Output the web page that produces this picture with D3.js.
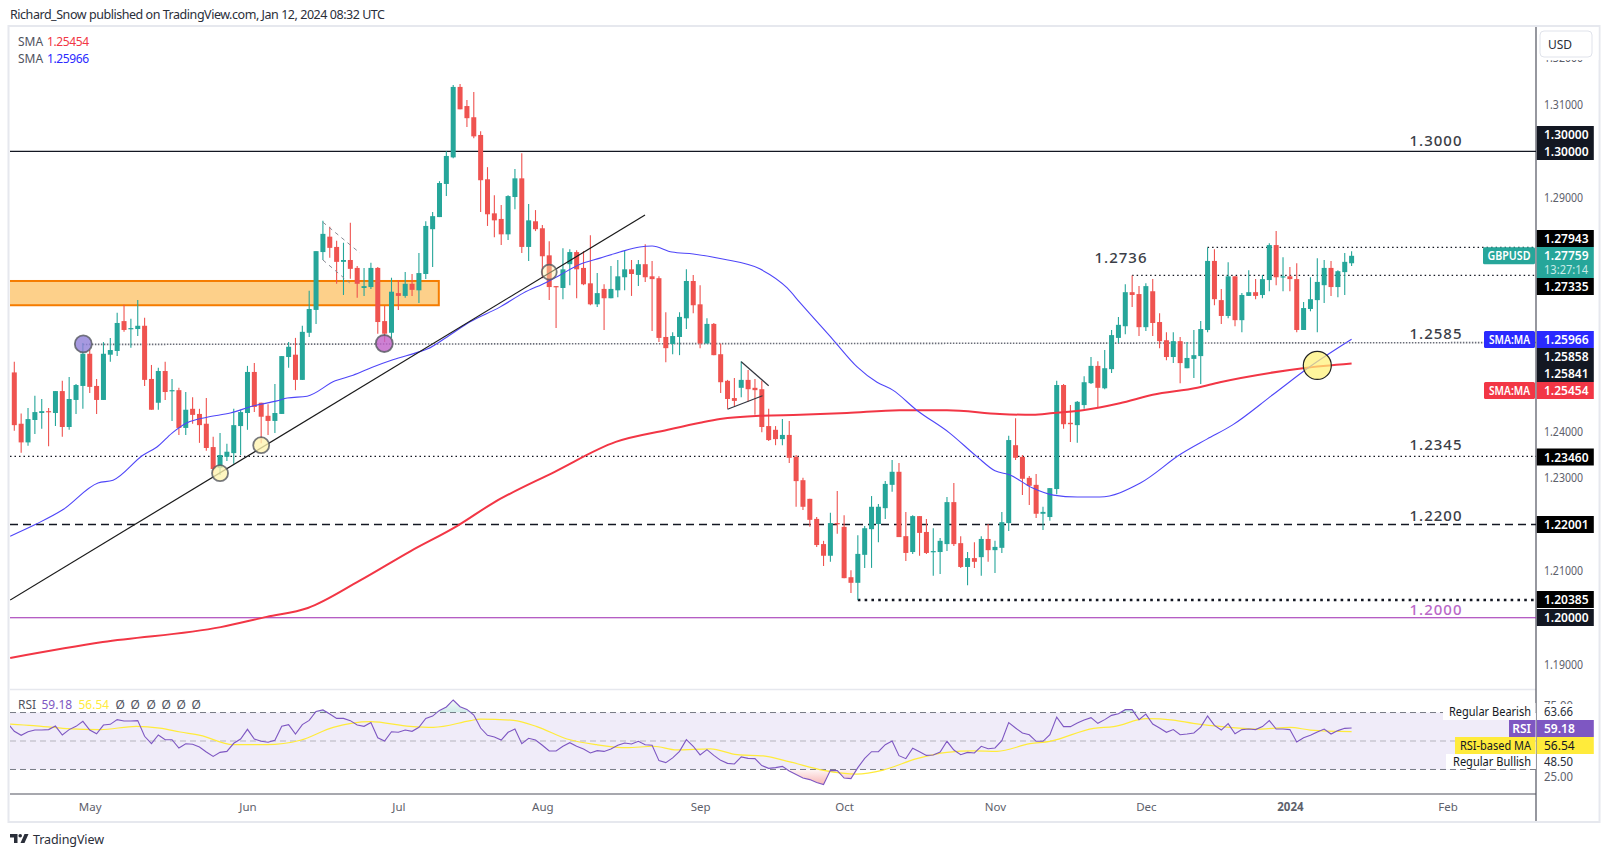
<!DOCTYPE html>
<html><head><meta charset="utf-8">
<script src="https://cdnjs.cloudflare.com/ajax/libs/d3/7.8.5/d3.min.js"></script>
<style>
html,body{margin:0;padding:0;background:#fff}
svg{display:block}
text{font-family:"Noto Sans",sans-serif}
</style></head><body><svg id="c" width="1610" height="857"></svg>
<script>
// All prices are GBPUSD quotes x 10000 (pips)
const opens=[12526,12416,12376,12424,12439,12443,12439,12486,12409,12467,
12497,12566,12497,12467,12564,12572,12636,12619,12619,12626,
12512,12461,12529,12486,12488,12407,12448,12437,12416,12366,
12321,12345,12353,12411,12439,12527,12461,12433,12422,12437,
12559,12564,12510,12611,12660,12784,12817,12795,12763,12767,
12750,12707,12709,12750,12636,12611,12696,12690,12716,12702,
12737,12833,12859,12930,12987,13138,13097,13073,13035,12940,
12867,12855,12822,12902,12942,12795,12850,12835,12777,12711,
12707,12758,12784,12750,12717,12672,12705,12685,12702,12730,
12747,12735,12758,12732,12728,12602,12587,12602,12642,12722,
12672,12588,12630,12565,12508,12471,12493,12510,12493,12490,
12411,12403,12383,12392,12345,12295,12255,12212,12158,12133,
12203,12195,12087,12075,12135,12190,12201,12235,12285,12313,
12175,12141,12218,12184,12141,12141,12158,12248,12160,12109,
12128,12130,12169,12145,12150,12203,12370,12345,12300,12285,
12223,12216,12276,12499,12418,12413,12456,12503,12540,12492,
12533,12600,12625,12698,12694,12623,12700,12634,12595,12559,
12593,12535,12555,12561,12617,12765,12681,12647,12732,12638,
12690,12698,12692,12724,12799,12730,12732,12726,12617,12662,
12681,12713,12750,12709,12741,12760];
const closes=[12413,12376,12426,12441,12443,12441,12486,12409,12469,12499,
12566,12495,12467,12566,12574,12632,12617,12621,12626,12510,
12446,12529,12484,12488,12407,12446,12435,12413,12364,12319,
12349,12356,12413,12441,12527,12452,12431,12422,12439,12561,
12581,12510,12613,12662,12786,12823,12793,12763,12767,12748,
12716,12711,12750,12634,12609,12699,12690,12716,12703,12739,
12840,12861,12932,12990,13138,13090,13071,13032,12938,12865,
12852,12822,12904,12942,12795,12852,12833,12775,12709,12709,
12747,12784,12747,12715,12672,12696,12685,12705,12732,12747,
12737,12758,12730,12726,12600,12578,12604,12645,12722,12670,
12588,12630,12563,12505,12469,12465,12510,12490,12488,12409,
12381,12383,12392,12343,12293,12238,12210,12156,12133,12203,
12201,12085,12075,12137,12192,12238,12238,12287,12313,12173,
12139,12218,12182,12139,12143,12165,12248,12158,12109,12128,
12120,12169,12145,12152,12205,12381,12343,12298,12283,12223,
12227,12278,12499,12415,12415,12463,12505,12540,12493,12535,
12606,12628,12698,12692,12623,12711,12632,12593,12559,12593,
12546,12557,12563,12619,12765,12683,12647,12732,12638,12692,
12698,12690,12726,12799,12730,12732,12726,12617,12664,12683,
12720,12750,12709,12743,12763,12776];
const highs=[12549,12438,12450,12476,12469,12450,12486,12508,12516,12501,
12589,12574,12512,12591,12600,12654,12671,12641,12681,12643,
12542,12536,12549,12512,12493,12484,12473,12448,12471,12388,
12396,12373,12448,12446,12540,12546,12461,12458,12501,12561,
12591,12600,12626,12701,12786,12851,12838,12808,12804,12847,
12754,12750,12761,12752,12669,12729,12724,12741,12737,12782,
12850,12870,12936,13000,13142,13144,13110,13127,13043,12966,
12906,12885,12906,12962,12996,12887,12874,12842,12807,12711,
12792,12790,12788,12786,12820,12739,12715,12754,12767,12788,
12767,12767,12801,12765,12732,12655,12612,12655,12747,12735,
12713,12642,12632,12588,12510,12514,12550,12531,12512,12508,
12448,12411,12426,12422,12349,12300,12255,12216,12165,12225,
12272,12220,12102,12177,12197,12261,12244,12293,12338,12332,
12227,12220,12218,12212,12192,12171,12259,12289,12175,12141,
12162,12175,12201,12165,12227,12390,12428,12349,12304,12308,
12238,12278,12508,12501,12456,12465,12518,12559,12550,12574,
12617,12645,12715,12734,12711,12717,12726,12653,12612,12612,
12602,12591,12617,12636,12794,12790,12705,12762,12732,12696,
12745,12726,12735,12803,12829,12773,12752,12760,12677,12730,
12771,12767,12765,12745,12782,12786];
const lows=[12401,12354,12369,12394,12405,12368,12411,12388,12403,12437,
12448,12482,12437,12467,12549,12561,12613,12579,12604,12497,
12446,12446,12467,12422,12392,12392,12416,12375,12358,12310,
12306,12336,12330,12349,12403,12441,12374,12392,12396,12437,
12536,12488,12510,12602,12630,12767,12772,12716,12692,12727,
12686,12690,12705,12609,12591,12600,12660,12686,12690,12675,
12726,12752,12859,12904,12985,13090,13052,13028,12870,12840,
12816,12799,12810,12876,12782,12765,12829,12728,12681,12621,
12683,12713,12685,12713,12670,12666,12617,12685,12687,12702,
12690,12711,12720,12615,12591,12548,12565,12563,12619,12653,
12578,12588,12563,12482,12448,12454,12473,12463,12435,12398,
12379,12370,12370,12332,12238,12231,12195,12152,12111,12120,
12180,12085,12053,12038,12107,12107,12162,12212,12270,12173,
12122,12137,12133,12137,12090,12094,12143,12154,12107,12070,
12107,12090,12120,12096,12139,12186,12338,12263,12242,12214,
12188,12208,12265,12405,12377,12375,12448,12501,12450,12490,
12525,12589,12608,12666,12604,12615,12604,12578,12552,12546,
12503,12535,12514,12501,12612,12670,12630,12642,12625,12612,
12690,12683,12685,12700,12713,12700,12700,12612,12617,12657,
12612,12675,12690,12687,12692,12754];
// SMA 50: [bar index, price]
const sma50Idx=[-0.6,3.2,7,12.2,14.4,18.8,20.8,23,25.2,28.1,31.5,34.8,38.3,39.8,42.7,46.8,49.4,52.2,55.2,59,60.2,63.1,66.4,70.8,74.2,77.7,79.6,82.5,85.4,88.3,91.2,93,95.9,99,103.3,108.7,112.7,114.6,119.4,122.9,125.8,128.1,131.6,136.4,140.4,143,145.2,148.5,151.5,155,158.3,164.2,170.1,173.9,177.6,183.5,188.9,195];
const sma50Val=[12175,12201,12231,12289,12295,12349,12366,12396,12418,12430,12439,12454,12465,12471,12475,12508,12520,12537,12553,12570,12576,12602,12634,12666,12696,12720,12735,12758,12771,12784,12795,12797,12784,12780,12769,12748,12707,12675,12596,12538,12505,12488,12445,12396,12345,12315,12306,12278,12263,12259,12259,12289,12351,12383,12413,12478,12538,12597];
const sma200Idx=[-0.6,12.9,30.1,36.8,42.8,50.3,57.8,64.6,69.8,78.8,87.7,95.3,100,102.9,108.7,114.6,121.4,129.1,136,143.7,148.5,151.5,155.8,161.2,166,172.5,175.8,183.1,187.9,195];
const sma200Val=[11914,11948,11980,12002,12021,12079,12143,12197,12246,12313,12377,12403,12418,12426,12433,12435,12439,12445,12445,12437,12435,12439,12445,12460,12478,12493,12505,12525,12535,12545];
// RSI starting at bar -1
const rsiVals=[62.6,56.8,54.0,56.5,57.7,57.7,58.0,60.5,54.2,58.0,60.3,63.8,57.7,55.1,61.2,61.7,65.0,64.0,64.0,64.3,53.3,48.1,54.2,50.9,50.9,45.1,48.1,47.7,45.8,42.3,39.2,42.0,42.7,48.4,51.4,58.2,51.4,49.8,49.1,50.5,60.3,61.5,54.9,61.5,64.5,70.8,71.8,68.9,65.9,65.9,64.3,61.2,60.3,62.9,52.3,50,56.5,56.1,57.7,56.8,59.6,65.9,67.5,71.5,73.9,78.8,74.1,72.2,68.2,59.1,54.0,52.8,50.7,56.1,58.4,48.1,51.9,50.7,47.0,43.0,43.0,46.3,48.8,46.3,44.4,41.6,43.2,42.7,44.4,47.0,48.6,47.9,49.8,47.4,47.0,36.2,34.8,38.1,42.7,50.9,46.3,40.2,43.9,39.9,36.4,34.3,33.9,38.8,37.8,37.6,32.7,30.8,31.3,32.2,28.9,26.4,24.0,22.9,20.8,19.4,29.4,29.2,24.0,23.6,31.3,37.8,42.5,42.5,47.4,50,39.7,37.6,44.9,42.5,39.9,40.2,42.3,49.8,43.7,40.4,42.0,41.6,46.3,44.6,45.1,50.2,62.9,59.1,55.6,54.4,49.8,49.8,54.4,66.8,60.1,60.1,62.6,64.7,66.4,62.4,65.0,68.0,69.2,72.0,72.0,65.0,68.9,61.9,59.1,56.1,58.0,54.4,54.9,55.6,59.8,67.5,61.0,57.7,62.2,55.1,58.0,58.4,58.0,60.1,64.3,58.4,58.4,58.0,49.3,52.3,54.0,56.3,58.4,54.9,57.3,58.9,59.18];
const rsiMaIdx=[-0.6,2.8,7.6,12.5,17.8,21.2,24.2,27.1,31.9,36.8,41.7,46.5,51.9,57.7,61.1,66.5,67.9,72.8,76.2,80.6,84.9,89.3,93.2,96.6,101.5,105.4,109.2,113.1,118,122.8,126.7,131.6,136,139.9,143.3,148.1,151,157.4,160.3,165.1,169,171.9,176.8,181.7,186,189,195];
const rsiMaVal=[61.9,60.8,58.7,58.0,60.3,59.1,56.3,54.0,47.4,47.4,50.5,59.6,63.6,60.3,59.6,64.3,65.4,64.5,60.1,51.4,47.4,45.3,46.3,43.7,44.4,40.4,39.5,35.3,29.4,26.8,29.6,37.6,42.0,43.0,42.7,48.1,49.8,58.9,60.1,65.7,64.7,62.4,59.8,58.4,59.6,57.7,56.54];
// Axis
const priceTicks=[13200,13100,12900,12400,12300,12100,11900];
const rsiTicks=[75,25];
const monthIdx=[11,34,56,77,100,121,143,165,186,209];
const monthLabels=["May","Jun","Jul","Aug","Sep","Oct","Nov","Dec","2024","Feb"];
// Drawn levels and annotations: price and bar index
const level13000=13000, level12200=12200, level12346=12346, level12000=12000;
const level12794=[175-1,12794], level12734=[164-1,12734], level12038=[123,12038];
const level12585=[[10,12586],[196,12590]];
const zone=[61.9,12670,12722];
const trend=[[-0.6,12038],[91.97,12863.5]];
const channel=[[[45,12848],[50.4,12782]],[[45,12767],[48.9,12718]]];
const triangle=[[[106,12549],[110,12497.5]],[[104,12447],[109.1,12476]]];
const circles=[[10.06,12587,8.5,"#9080d8",.8],[53.95,12588,8.5,"#c060c8",.8],[30,12310,8,"#fff3b0",.78],[36,12370,8,"#fff3b0",.78],[78,12741,7.5,"#fff3b0",.45],[190,12541,14,"#fff176",.72]];

const svg=d3.select("#c");
const L=10,R=1536,TOP=27,BOT=689;
const x=d3.scaleLinear().domain([0,195]).range([14.3,1351.6]);
const y=d3.scaleLinear().domain([12000,13000]).range([617.8,151.3]);
const yr=d3.scaleLinear().domain([25,75]).range([776.6,705.4]);
const defs=svg.append("defs");
defs.append("clipPath").attr("id","main").append("rect").attr("x",L).attr("y",TOP).attr("width",R-L).attr("height",BOT-TOP);
defs.append("clipPath").attr("id","rsi").append("rect").attr("x",L).attr("y",690).attr("width",R-L).attr("height",104);
defs.append("clipPath").attr("id","ob").append("rect").attr("x",L).attr("y",690).attr("width",R-L).attr("height",yr(70)-690);
defs.append("clipPath").attr("id","os").append("rect").attr("x",L).attr("y",yr(30)).attr("width",R-L).attr("height",794-yr(30));
let g1=defs.append("linearGradient").attr("id","gOb").attr("x1",0).attr("x2",0).attr("y1",0).attr("y2",1);
g1.append("stop").attr("offset",0).attr("stop-color","#26a69a").attr("stop-opacity",.05);
g1.append("stop").attr("offset",1).attr("stop-color","#26a69a").attr("stop-opacity",.22);
let g2=defs.append("linearGradient").attr("id","gOs").attr("x1",0).attr("x2",0).attr("y1",0).attr("y2",1);
g2.append("stop").attr("offset",0).attr("stop-color","#ef5350").attr("stop-opacity",.05);
g2.append("stop").attr("offset",1).attr("stop-color","#ef5350").attr("stop-opacity",.42);

// Frame
const BORDER="#e6e8ee";
svg.append("rect").attr("x",8.5).attr("y",26).attr("width",1591).attr("height",796).attr("fill","none").attr("stroke",BORDER).attr("stroke-width",2);
svg.append("line").attr("x1",L).attr("x2",R).attr("y1",689.5).attr("y2",689.5).attr("stroke",BORDER).attr("stroke-width",1.5);
svg.append("line").attr("x1",L).attr("x2",R).attr("y1",794).attr("y2",794).attr("stroke","#50535e").attr("stroke-width",1.2);
svg.append("line").attr("x1",R).attr("x2",R).attr("y1",27).attr("y2",821).attr("stroke","#50535e").attr("stroke-width",1.2);

// Title
svg.append("text").attr("x",10).attr("y",18.5).attr("font-size",12.5).attr("fill","#2a2e39").attr("textLength",375).text("Richard_Snow published on TradingView.com, Jan 12, 2024 08:32 UTC");
svg.append("text").attr("x",18).attr("y",46).attr("font-size",12).attr("fill","#50535e").text("SMA");
svg.append("text").attr("x",47).attr("y",46).attr("font-size",12).attr("fill","#f23645").attr("textLength",42).text("1.25454");
svg.append("text").attr("x",18).attr("y",63).attr("font-size",12).attr("fill","#50535e").text("SMA");
svg.append("text").attr("x",47).attr("y",63).attr("font-size",12).attr("fill","#2a2aff").attr("textLength",42).text("1.25966");

// Main pane
const m=svg.append("g").attr("clip-path","url(#main)");
m.append("rect").attr("x",x(-5)).attr("width",x(zone[0])-x(-5)).attr("y",y(zone[2])).attr("height",y(zone[1])-y(zone[2])).attr("fill","#fdd08a").attr("stroke","#f57c00").attr("stroke-width",2);
const hl=(x1,x2,val,col,w,dash)=>m.append("line").attr("x1",x1).attr("x2",x2).attr("y1",y(val)).attr("y2",y(val)).attr("stroke",col).attr("stroke-width",w).attr("stroke-dasharray",dash||null);
hl(L,R,level13000,"#131722",1.3);
hl(L,R,level12346,"#131722",1.3,"1.5 3");
hl(L,R,level12200,"#131722",1.6,"8 5");
hl(L,R,level12000,"#9c27b0",1.1);
hl(x(level12794[0]),R,level12794[1],"#131722",1.3,"1.5 3");
hl(x(level12734[0]),R,level12734[1],"#131722",1.3,"1.5 3");
hl(x(level12038[0]),R,level12038[1],"#131722",2.6,"2.6 4.2");
m.append("line").attr("x1",x(level12585[0][0])).attr("x2",R).attr("y1",y(level12585[0][1])).attr("y2",y(level12585[1][1])).attr("stroke","#6a6d78").attr("stroke-width",1.6).attr("stroke-dasharray","1.5 1.5");

// Candles
const idx=d3.range(opens.length);
const col=i=>closes[i]>=opens[i]?"#26a69a":"#ef5350";
const cg=m.append("g");
cg.selectAll("line.w").data(idx).join("line").attr("class","w").attr("x1",i=>x(i)).attr("x2",i=>x(i)).attr("y1",i=>y(highs[i])).attr("y2",i=>y(lows[i])).attr("stroke",col).attr("stroke-width",1.1);
cg.selectAll("rect.b").data(idx).join("rect").attr("class","b").attr("x",i=>x(i)-2.5).attr("width",5).attr("y",i=>y(Math.max(opens[i],closes[i]))).attr("height",i=>Math.max(1.2,Math.abs(y(opens[i])-y(closes[i])))).attr("fill",col);

// SMA
const ln=d3.line().x(d=>x(d[0])).y(d=>y(d[1])).curve(d3.curveMonotoneX);
m.append("path").attr("d",ln(sma200Idx.map((v,i)=>[v,sma200Val[i]]))).attr("fill","none").attr("stroke","#f23645").attr("stroke-width",2);
m.append("path").attr("d",ln(sma50Idx.map((v,i)=>[v,sma50Val[i]]))).attr("fill","none").attr("stroke","#4f46f8").attr("stroke-width",1.1);

// Annotations
const seg=(s,c,w,dash)=>m.append("line").attr("x1",x(s[0][0])).attr("y1",y(s[0][1])).attr("x2",x(s[1][0])).attr("y2",y(s[1][1])).attr("stroke",c).attr("stroke-width",w).attr("stroke-dasharray",dash||null);
seg(trend,"#1a1a1a",1.2);
channel.forEach(s=>seg(s,"#8a8d96",1,"4 4"));
triangle.forEach(s=>seg(s,"#33363f",1.2));
m.selectAll("circle.a").data(circles).join("circle").attr("class","a").attr("cx",d=>x(d[0])).attr("cy",d=>y(d[1])).attr("r",d=>d[2]).attr("fill",d=>d[3]).attr("fill-opacity",d=>d[4]).attr("stroke",(d,i)=>i==5?"#222":"#55585f").attr("stroke-width",(d,i)=>i==5?1.2:1.8).attr("stroke-opacity",(d,i)=>i==5?1:.8);

// Level texts
const lvl=(t,px,py,c)=>svg.append("text").attr("x",px).attr("y",py).attr("text-anchor","middle").attr("font-size",15).attr("letter-spacing",1).attr("fill",c||"#3b3e47").attr("font-weight",500).text(t);
lvl("1.3000",1436,146);
lvl("1.2736",1121,263);
lvl("1.2585",1436,339);
lvl("1.2345",1436,449.5);
lvl("1.2200",1436,521);
lvl("1.2000",1436,614.5,"#ba68c8");

// Price axis
const ax=d3.axisRight(y).tickValues(priceTicks).tickSize(0).tickPadding(0).tickFormat(v=>d3.format(".5f")(v/10000));
const ag=svg.append("g").attr("transform","translate(1544,0)").call(ax);
ag.select(".domain").remove();
ag.selectAll("text").attr("font-size",12).attr("fill","#5d606b").attr("font-family",'"Noto Sans",sans-serif').attr("textLength",39).attr("lengthAdjust","spacingAndGlyphs");
// USD box
svg.append("rect").attr("x",1537.5).attr("y",27).attr("width",61).attr("height",33).attr("fill","#fff");
svg.append("rect").attr("x",1540).attr("y",31).attr("width",52).attr("height",26).attr("rx",4).attr("fill","#fff").attr("stroke","#e0e3eb");
svg.append("text").attr("x",1560).attr("y",48.5).attr("text-anchor","middle").attr("font-size",12).attr("fill","#2a2e39").text("USD");

// Right tags
const tagDefs=[
 ["1.30000",126,"#131722"],["1.30000",143,"#131722"],["1.27943",230,"#000"],
 ["1.27335",278,"#000"],["1.25966",331,"#2a2aff"],["1.25858",348,"#131722"],["1.25841",365,"#131722"],
 ["1.25454",382,"#f23645"],["1.23460",448.5,"#000"],["1.22001",516,"#000"],["1.20385",591,"#000"],["1.20000",609,"#131722"]];
tagDefs.forEach(d=>{
 svg.append("rect").attr("x",1536.8).attr("y",d[1]).attr("width",57).attr("height",17).attr("fill",d[2]);
 svg.append("text").attr("x",1544).attr("y",d[1]+13).attr("font-size",12).attr("font-weight",600).attr("fill","#fff").text(d[0]);
});
svg.append("rect").attr("x",1536.8).attr("y",247).attr("width",57).attr("height",31).attr("fill","#26a69a");
svg.append("text").attr("x",1544).attr("y",260).attr("font-size",12).attr("font-weight",600).attr("fill","#fff").text("1.27759");
svg.append("text").attr("x",1544).attr("y",274).attr("font-size",12).attr("fill","#c8ebe7").attr("textLength",44).attr("lengthAdjust","spacingAndGlyphs").text("13:27:14");
const ltag=(t,yy,c,x0,tl)=>{svg.append("rect").attr("x",x0).attr("y",yy).attr("width",1535-x0).attr("height",17).attr("rx",1.5).attr("fill",c);
 svg.append("text").attr("x",(x0+1535)/2).attr("y",yy+13).attr("text-anchor","middle").attr("font-size",12).attr("font-weight",600).attr("fill","#fff").attr("textLength",tl).attr("lengthAdjust","spacingAndGlyphs").text(t);};
ltag("GBPUSD",247.3,"#26a69a",1483,43);
ltag("SMA:MA",331,"#2a2aff",1484,41);
ltag("SMA:MA",382,"#f23645",1484,41);

// RSI pane
const rp=svg.append("g").attr("clip-path","url(#rsi)");
rp.append("rect").attr("x",L).attr("width",R-L).attr("y",yr(70)).attr("height",yr(30)-yr(70)).attr("fill","#f0ecf9");
[[70,"#787b86"],[30,"#787b86"]].forEach(d=>rp.append("line").attr("x1",L).attr("x2",R).attr("y1",yr(d[0])).attr("y2",yr(d[0])).attr("stroke",d[1]).attr("stroke-width",1).attr("stroke-dasharray","6 4"));
rp.append("line").attr("x1",L).attr("x2",R).attr("y1",yr(50)).attr("y2",yr(50)).attr("stroke","#b5b4bd").attr("stroke-width",1).attr("stroke-dasharray","6 4");
const rsiPts=rsiVals.map((v,i)=>[i-1,v]);
const maPts=rsiMaIdx.map((v,i)=>[v,rsiMaVal[i]]);
rp.append("path").attr("clip-path","url(#ob)").attr("d",d3.area().x(d=>x(d[0])).y0(yr(70)).y1(d=>Math.min(yr(d[1]),yr(70)))(rsiPts)).attr("fill","url(#gOb)");
rp.append("path").attr("clip-path","url(#os)").attr("d",d3.area().x(d=>x(d[0])).y0(yr(30)).y1(d=>Math.max(yr(d[1]),yr(30)))(rsiPts)).attr("fill","url(#gOs)");
const lr=d3.line().x(d=>x(d[0])).y(d=>yr(d[1]));
rp.append("path").attr("d",d3.line().x(d=>x(d[0])).y(d=>yr(d[1])).curve(d3.curveMonotoneX)(maPts)).attr("fill","none").attr("stroke","#ffeb3b").attr("stroke-width",1.2);
rp.append("path").attr("d",lr(rsiPts)).attr("fill","none").attr("stroke","#7e57c2").attr("stroke-width",1.1);

// RSI header
const rh=(t,px,c)=>svg.append("text").attr("x",px).attr("y",709).attr("font-size",12).attr("fill",c).text(t);
rh("RSI",18,"#50535e");rh("59.18",41.5,"#7e57c2");rh("56.54",78.5,"#ffeb3b");
[115.5,130.5,146.5,161.5,176.5,191.5].forEach(px=>rh("Ø",px,"#50535e"));

// RSI axis
const ar=d3.axisRight(yr).tickValues(rsiTicks).tickSize(0).tickPadding(0).tickFormat(d3.format(".2f"));
const arg=svg.append("g").attr("transform","translate(1544,0)").call(ar);
arg.select(".domain").remove();
arg.selectAll("text").attr("font-size",12).attr("fill","#5d606b").attr("font-family",'"Noto Sans",sans-serif').attr("textLength",29).attr("lengthAdjust","spacingAndGlyphs");
svg.append("rect").attr("x",1537.5).attr("y",704).attr("width",58).attr("height",16).attr("fill","#fff");
svg.append("rect").attr("x",1443).attr("y",703).attr("width",92.5).attr("height",17).attr("fill","#fff");
svg.append("text").attr("x",1531).attr("y",715.5).attr("text-anchor","end").attr("font-size",12).attr("fill","#131722").attr("textLength",82).attr("lengthAdjust","spacingAndGlyphs").text("Regular Bearish");
svg.append("text").attr("x",1544).attr("y",716).attr("font-size",12).attr("fill","#2a2e39").attr("textLength",29).attr("lengthAdjust","spacingAndGlyphs").text("63.66");
svg.append("rect").attr("x",1509).attr("y",720).attr("width",26.5).attr("height",17).attr("fill","#7e57c2");
svg.append("text").attr("x",1531).attr("y",733).attr("text-anchor","end").attr("font-size",12).attr("font-weight",600).attr("fill","#fff").text("RSI");
svg.append("rect").attr("x",1536.8).attr("y",720).attr("width",57).attr("height",17).attr("fill","#7e57c2");
svg.append("text").attr("x",1544).attr("y",733).attr("font-size",12).attr("font-weight",600).attr("fill","#fff").text("59.18");
svg.append("rect").attr("x",1455).attr("y",737).attr("width",80.5).attr("height",17).attr("fill","#ffeb3b");
svg.append("text").attr("x",1531).attr("y",750).attr("text-anchor","end").attr("font-size",12).attr("fill","#131722").attr("textLength",71).attr("lengthAdjust","spacingAndGlyphs").text("RSI-based MA");
svg.append("rect").attr("x",1536.8).attr("y",737).attr("width",57).attr("height",17).attr("fill","#ffeb3b");
svg.append("text").attr("x",1544).attr("y",750).attr("font-size",12).attr("fill","#131722").text("56.54");
svg.append("rect").attr("x",1446).attr("y",754).attr("width",89.5).attr("height",15).attr("fill","#fff");
svg.append("text").attr("x",1531).attr("y",766).attr("text-anchor","end").attr("font-size",12).attr("fill","#131722").attr("textLength",78).attr("lengthAdjust","spacingAndGlyphs").text("Regular Bullish");
svg.append("text").attr("x",1544).attr("y",766).attr("font-size",12).attr("fill","#2a2e39").attr("textLength",29).attr("lengthAdjust","spacingAndGlyphs").text("48.50");

// Time axis
const at=d3.axisBottom(x).tickValues(monthIdx).tickSize(0).tickPadding(0).tickFormat((d,i)=>monthLabels[i]);
const atg=svg.append("g").attr("transform","translate(0,803)").call(at);
atg.select(".domain").remove();
atg.selectAll("text").attr("font-size",11.5).attr("fill","#5d606b").attr("font-family",'"Noto Sans",sans-serif').attr("font-weight",d=>d==186?700:400);

// Footer
const f=svg.append("g").attr("transform","translate(10,834)").attr("fill","#2a2e39");
f.append("path").attr("d","M0 0H7.5V9H4V3.6H0Z");
f.append("circle").attr("cx",10.2).attr("cy",1.8).attr("r",1.8);
f.append("path").attr("d","M14.5 0H18.5L14.5 9H10.5Z");
svg.append("text").attr("x",33).attr("y",843.5).attr("font-size",12.5).attr("fill","#2a2e39").attr("textLength",71).text("TradingView");
</script></body></html>
